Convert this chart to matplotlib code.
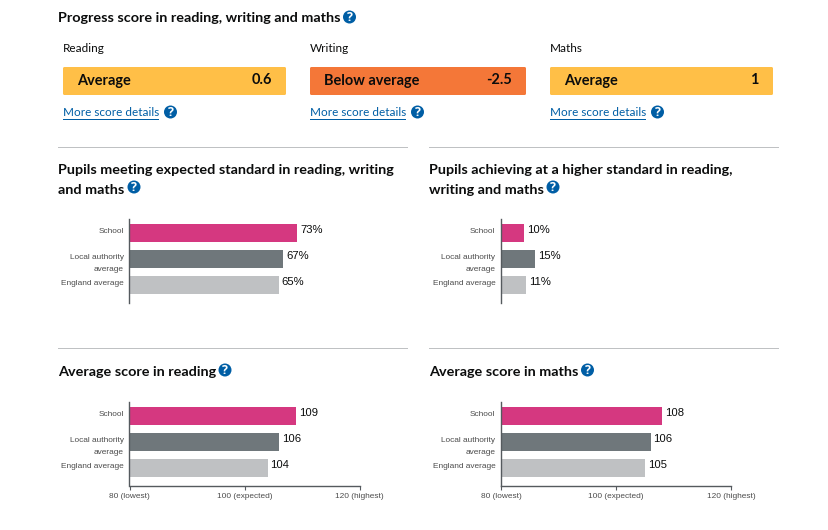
import matplotlib
matplotlib.use('Agg')
import matplotlib.pyplot as plt
from matplotlib.patches import Circle, FancyBboxPatch

W, H = 829, 530

# Data
categories = ['School', 'Local authority\naverage', 'England average']
bar_colors = ['#d53880', '#6f777b', '#bfc1c3']

expected_pct = [73, 67, 65]
higher_pct = [10, 15, 11]
reading_avg = [109, 106, 104]
maths_avg = [108, 106, 105]

progress_subjects = ['Reading', 'Writing', 'Maths']
progress_bands = ['Average', 'Below average', 'Average']
progress_scores = ['0.6', '-2.5', '1']
progress_colors = ['#ffbf47', '#f47738', '#ffbf47']

score_ticks = [80, 100, 120]
score_tick_labels = ['80 (lowest)', '100 (expected)', '120 (highest)']

HEAD = 'Lato'
BLUE = '#005ea5'
BLACK = '#0b0c0c'
px = 0.72  # px to pt at dpi 100

fig = plt.figure(figsize=(W / 100, H / 100), dpi=100, facecolor='white')

# Overlay in pixel coordinates for the page furniture
page = fig.add_axes([0, 0, 1, 1])
page.set_xlim(0, W)
page.set_ylim(H, 0)
page.axis('off')


def help_icon(x, y, r=6.5):
    page.add_patch(Circle((x, y), r, fc=BLUE, ec='none'))
    page.text(x, y + 0.3, '?', color='white', fontsize=12.5 * px, fontweight='bold',
              family='Open Sans', ha='center', va='center')


def heading(x, y, s):
    page.text(x, y, s, fontsize=14.35 * px, fontweight='bold', family=HEAD, color=BLACK,
              va='center', ha='left')


heading(58, 18.5, 'Progress score in reading, writing and maths')
help_icon(349.5, 17)

box_left = [63, 310, 550]
box_right = [286, 526, 773]
for i in range(3):
    l, r = box_left[i], box_right[i]
    page.text(l, 49, progress_subjects[i], fontsize=11.75 * px, family=HEAD, color=BLACK, va='center')
    page.add_patch(FancyBboxPatch((l, 67), r - l, 28, boxstyle='round,pad=0,rounding_size=1.5',
                                  fc=progress_colors[i], ec='none'))
    page.text(l + 14, 80.5, progress_bands[i], fontsize=14.5 * px, fontweight='bold', family=HEAD,
              color=BLACK, va='center')
    page.text(r - 14, 80.5, progress_scores[i], fontsize=14.5 * px, fontweight='bold', family=HEAD,
              color=BLACK, va='center', ha='right')
    page.text(l, 112.5, 'More score details', fontsize=11.75 * px, family=HEAD, color=BLUE, va='center')
    page.plot([l, l + 95.5], [118.5, 118.5], color=BLUE, lw=0.72)
    help_icon(l + 107.5, 112)

# Section rules
for y in [146.5, 347.5]:
    page.plot([58, 407], [y, y], color='#bfc1c3', lw=0.72)
    page.plot([429, 778], [y, y], color='#bfc1c3', lw=0.72)

heading(58, 170.5, 'Pupils meeting expected standard in reading, writing')
heading(58, 189.5, 'and maths')
help_icon(134, 187)
heading(429.5, 170.5, 'Pupils achieving at a higher standard in reading,')
heading(429.5, 189.5, 'writing and maths')
help_icon(553, 187)
heading(58, 372.5, 'Average score in reading')
help_icon(225, 370)
heading(429.5, 372.5, 'Average score in maths')
help_icon(587.5, 370)


def bar_chart(x0, y0, values, vmin, vmax, width, suffix='', xaxis=False):
    # x0, y0 = pixel position of the axis origin top, chart is 84px tall
    height = 84
    ax = fig.add_axes([x0 / W, 1 - (y0 + height) / H, width / W, height / H])
    ax.set_xlim(vmin, vmax)
    ax.set_ylim(height, 0)
    centers = [14.5, 40.5, 66.5]
    ax.barh(centers, [v - vmin for v in values], left=vmin, height=18, color=bar_colors)
    ax.patch.set_alpha(0)
    for s in ['top', 'right']:
        ax.spines[s].set_visible(False)
    ax.spines['left'].set_color('#555a5e')
    ax.spines['left'].set_linewidth(1)
    ax.set_yticks([])
    for c, v, lab in zip(centers, values, categories):
        ax.annotate(f'{v}{suffix}', (v, c), xytext=(2.2, 2.2), textcoords='offset points',
                    fontsize=11.2 * px, family='Liberation Sans', color=BLACK, va='center')
        ax.annotate(lab.split('\n')[0], (vmin, c), xytext=(-4, 1), textcoords='offset points',
                    fontsize=8.3 * px, family='Liberation Sans', color='#4c4c4c', va='center', ha='right')
        if '\n' in lab:
            ax.annotate(lab.split('\n')[1], (vmin, c), xytext=(-4, -7.4), textcoords='offset points',
                        fontsize=8.3 * px, family='Liberation Sans', color='#4c4c4c', va='center', ha='right')
    if xaxis:
        ax.spines['bottom'].set_color('#555a5e')
        ax.spines['bottom'].set_linewidth(1)
        ax.set_xticks(score_ticks, score_tick_labels, fontsize=8.3 * px, family='Liberation Sans', color='#4c4c4c')
        ax.tick_params(axis='x', length=3, width=0.8, color='#555a5e', pad=2.5)
    else:
        ax.spines['bottom'].set_visible(False)
        ax.set_xticks([])
    return ax


pct_width = 2.295 * 100
bar_chart(129.5, 218.5, expected_pct, 0, 100, pct_width, '%')
bar_chart(501, 218.5, higher_pct, 0, 100, pct_width, '%')
bar_chart(129.5, 401.5, reading_avg, 80, 120, 230, xaxis=True)
bar_chart(501, 401.5, maths_avg, 80, 120, 230, xaxis=True)

fig.savefig('out.png', dpi=100)
